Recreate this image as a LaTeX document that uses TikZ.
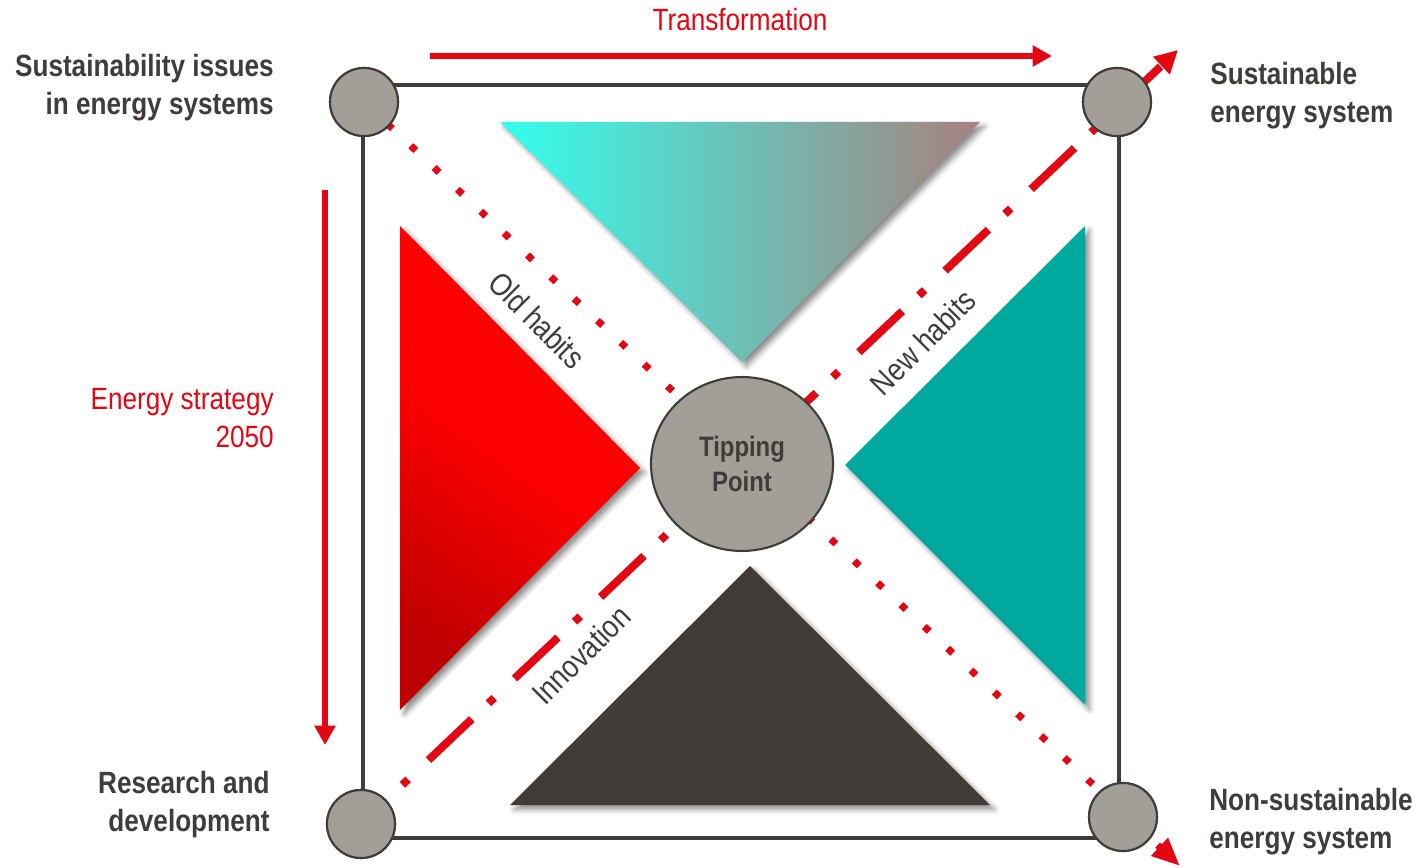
\documentclass[tikz,border=0pt]{standalone}
\usepackage{fontspec}
\setmainfont{Liberation Sans}
\newfontfamily\narrowfont[FakeStretch=0.85]{Liberation Sans}
\usetikzlibrary{arrows.meta}
\usetikzlibrary{shapes.geometric}
\usetikzlibrary{shadows.blur}

\definecolor{tpred}{HTML}{E30613}
\definecolor{tpgray}{HTML}{A39E98}
\definecolor{tpdark}{HTML}{403C39}
\definecolor{tpteal}{HTML}{00A99D}
\definecolor{tpcyan}{HTML}{33FFEE}
\definecolor{tprose}{HTML}{A8807E}
\definecolor{tpdeep}{HTML}{BF0000}

\tikzset{
    corner/.style={draw=tpdark, line width=1.2pt, fill=tpgray, circle,
        minimum size=38.7pt, inner sep=0pt},
    hub/.style={draw=tpdark, line width=1.2pt, fill=tpgray, ellipse,
        minimum width=103.6pt, minimum height=99pt, inner sep=0pt, align=center,
        text=tpdark, font=\narrowfont\bfseries\fontsize{16}{19.5}\selectfont},
    boldlabel/.style={text=tpdark, inner sep=0pt,
        font=\narrowfont\bfseries\fontsize{17.5}{21.6}\selectfont},
    redlabel/.style={text=tpred, inner sep=0pt,
        font=\narrowfont\fontsize{17.5}{21.6}\selectfont},
    habit/.style={text=tpdark, inner sep=0pt,
        font=\narrowfont\fontsize{18}{21}\selectfont},
    tri/.style={blur shadow={shadow xshift=2.5pt, shadow yshift=-2.5pt,
        shadow blur radius=3pt, shadow opacity=45}},
    oldline/.style={tpred, line width=4pt, dash pattern=on 4pt off 14.2pt,
        -{Triangle[length=16pt, width=13pt]}},
    newline/.style={tpred, line width=4.5pt,
        dash pattern=on 34pt off 13pt on 4.5pt off 16pt, dash phase=14.6pt,
        -{Triangle[length=13pt, width=13pt]}},
    flow/.style={tpred, line width=3.4pt, -{Triangle[length=11pt, width=11.5pt]}}
}

\begin{document}
\begin{tikzpicture}[x=0.02cm, y=-0.02cm]
    \useasboundingbox (0,0) rectangle (1418,868);

    % frame
    \draw[tpdark, line width=2.3pt] (363,85) rectangle (1119,838);

    % triangles
    \path[tri, left color=tpcyan, right color=tprose] (500,122) -- (980,122) -- (742,362) -- cycle;
    \path[tri, top color=red, bottom color=tpdeep, middle color=red!95!tpdeep, shading angle=-35]
        (400,226) -- (640,468) -- (400,710) -- cycle;
    \path[tri, fill=tpteal] (1085,226) -- (845,465) -- (1085,705) -- cycle;
    \path[tri, fill=tpdark] (750,566) -- (990,805) -- (510,805) -- cycle;

    % corner and hub nodes
    \node[corner] (TL) at (364,102) {};
    \node[corner] (TR) at (1117,102) {};
    \node[corner] (BL) at (361,824) {};
    \node[corner] (BR) at (1123,817) {};
    \coordinate (oldEnd) at (1180,866);
    \coordinate (newEnd) at (1178,50);
    \coordinate (transStart) at (430,56);
    \coordinate (transEnd) at (1052,56);
    \coordinate (stratStart) at (325,190);
    \coordinate (stratEnd) at (325,745);

    \draw[oldline] (TL.center) -- (oldEnd);
    \draw[newline] (BL.center) -- (newEnd);
    \draw[flow] (transStart) -- (transEnd);
    \draw[flow] (stratStart) -- (stratEnd);

    % circles on top of the lines
    \node[corner] at (TL) {};
    \node[corner] at (TR) {};
    \node[corner] at (BL) {};
    \node[corner] at (BR) {};
    \node[hub] (tip) at (742,464) {Tipping\\Point};

    % labels
    \node[redlabel] (trans) at (740,20) {Transformation};
    \node[redlabel, anchor=east, align=right] (strat) at (274,418) {Energy strategy\\2050};
    \node[boldlabel, anchor=east, align=right] (issues) at (274,88) {Sustainability issues\\in energy systems};
    \node[boldlabel, anchor=west, align=left] (sust) at (1210,96) {Sustainable\\energy system};
    \node[boldlabel, anchor=east, align=right] (rnd) at (270,805) {Research and\\development};
    \node[boldlabel, anchor=west, align=left] (nonsust) at (1209,822) {Non-sustainable\\energy system};
    \node[habit, rotate=-45] (old) at (537,320) {Old habits};
    \node[habit, rotate=45] (new) at (923,342) {New habits};
    \node[habit, rotate=45] (innov) at (581,655) {Innovation};
\end{tikzpicture}
\end{document}
